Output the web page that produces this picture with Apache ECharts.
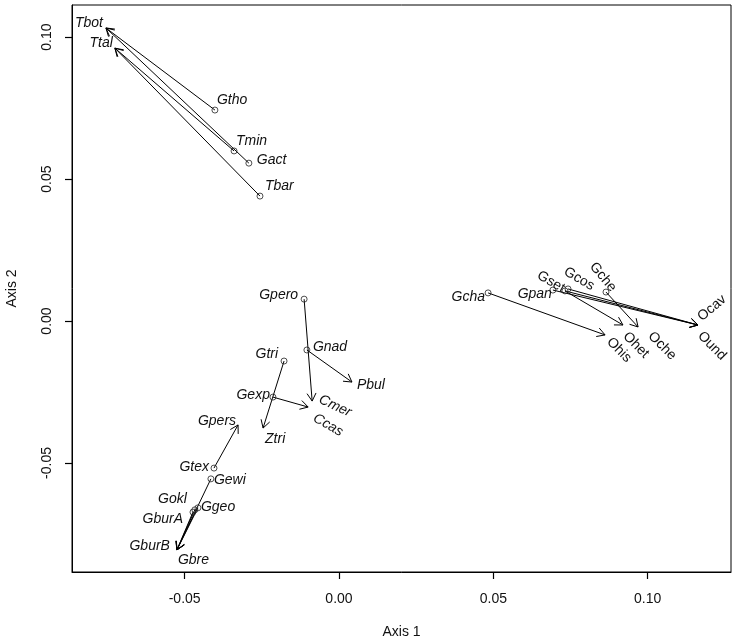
<!DOCTYPE html>
<html>
<head>
<meta charset="utf-8">
<script src="https://cdn.jsdelivr.net/npm/echarts@6/dist/echarts.min.js"></script>
<style>
  html, body { margin: 0; padding: 0; background: #fff; }
  #chart { width: 738px; height: 644px; }
</style>
</head>
<body>
<div id="chart"></div>
<script>
// start points (circles)
const startNames = ['Gtho', 'Tmin', 'Gact', 'Tbar', 'Gcha', 'Gpan', 'Gset', 'Gcos', 'Gche',
  'Gpero', 'Gnad', 'Gtri', 'Gexp', 'Gtex', 'Gewi', 'Ggeo', 'Gokl', 'GburA']
const startX = [-0.0402, -0.0340, -0.0292, -0.0256, 0.0483, 0.0693, 0.0732, 0.0742, 0.0865,
  -0.0113, -0.0104, -0.0178, -0.0214, -0.0405, -0.0415, -0.0457, -0.0467, -0.0473]
const startY = [0.0743, 0.0599, 0.0556, 0.0440, 0.0099, 0.0109, 0.0106, 0.0113, 0.0102,
  0.0077, -0.0102, -0.0141, -0.0268, -0.0518, -0.0556, -0.0658, -0.0665, -0.0673]

// arrow tips
const endNames = ['Tbot', 'Ttal', 'Ohis', 'Ohet', 'Oche', 'Ocav', 'Ound', 'Cmer', 'Ccas',
  'Pbul', 'Ztri', 'Gpers', 'Gbre', 'GburB']
const endX = [-0.0755, -0.0726, 0.0862, 0.0920, 0.0969, 0.1163, 0.1163, -0.0087, -0.0100,
  0.0042, -0.0246, -0.0327, -0.0525, -0.0525]
const endY = [0.1032, 0.0961, -0.0049, -0.0014, -0.0021, -0.0014, -0.0014, -0.0282, -0.0303,
  -0.0215, -0.0377, -0.0366, -0.0806, -0.0806]

// arrows: from start name to tip name
const arrowFrom = ['Gtho', 'Gact', 'Tmin', 'Tbar', 'Gcha', 'Gpan', 'Gset', 'Gset', 'Gcos', 'Gche',
  'Gpero', 'Gnad', 'Gtri', 'Gexp', 'Gtex', 'Gewi', 'Ggeo', 'Gokl', 'GburA']
const arrowTo = ['Tbot', 'Tbot', 'Ttal', 'Ttal', 'Ohis', 'Ocav', 'Ohet', 'Ocav', 'Ound', 'Oche',
  'Cmer', 'Pbul', 'Ztri', 'Ccas', 'Gpers', 'Gbre', 'GburB', 'GburB', 'Gbre']

// axis ticks
const xTicks = [-0.05, 0.00, 0.05, 0.10]
const yTicks = [-0.05, 0.00, 0.05, 0.10]

// label placement (pixel offset from the point, align, rotation in degrees, italic)
const labelPos = {
  Gtho: [2, -10, 'left', 0, true], Tmin: [2, -10, 'left', 0, true], Gact: [8, -3, 'left', 0, true],
  Tbar: [5, -10, 'left', 0, true], Gcha: [-3, 4, 'right', 0, true], Gpan: [-1, 4, 'right', 0, true],
  Gset: [-14, -9, 'center', -30, false], Gcos: [11, -10, 'center', -30, false],
  Gche: [-3, -15, 'center', -50, false],
  Gpero: [-6, -4, 'right', 0, true], Gnad: [6, -3, 'left', 0, true], Gtri: [-6, -7, 'right', 0, true],
  Gexp: [-3, -2, 'right', 0, true], Gtex: [-5, -1, 'right', 0, true], Gewi: [3, 1, 'left', 0, true],
  Ggeo: [3, -1, 'left', 0, true], Gokl: [-8, -11, 'right', 0, true], GburA: [-10, 7, 'right', 0, true],
  Tbot: [-3, -5, 'right', 0, true], Ttal: [-2, -5, 'right', 0, true],
  Ohis: [14, 15, 'center', -45, false], Ohet: [13, 20, 'center', -45, false],
  Oche: [24, 19, 'center', -45, false], Ocav: [14, -17, 'center', 40, false],
  Ound: [14, 21, 'center', -45, false],
  Cmer: [23, 5, 'center', -25, true], Ccas: [20, 18, 'center', -30, true],
  Pbul: [5, 3, 'left', 0, true], Ztri: [2, 11, 'left', 0, true], Gpers: [-2, -4, 'right', 0, true],
  GburB: [-7, -4, 'right', 0, true], Gbre: [1, 10, 'left', 0, true]
}

const FONT = '"Liberation Sans", Arial, sans-serif'

const startData = startNames.map((n, i) => [startX[i], startY[i]])
const endData = endNames.map((n, i) => [endX[i], endY[i]])
const arrowData = arrowFrom.map((f, i) => {
  const a = startNames.indexOf(f)
  const b = endNames.indexOf(arrowTo[i])
  return [startX[a], startY[a], endX[b], endY[b]]
})
const labelNames = startNames.concat(endNames)
const labelData = startData.concat(endData)

// 箭头：线段 + 开口箭头
const renderArrow = (params, api) => {
  const p0 = api.coord([api.value(0), api.value(1)])
  const p1 = api.coord([api.value(2), api.value(3)])
  const ang = Math.atan2(p1[1] - p0[1], p1[0] - p0[0])
  const L = 9
  const a = Math.PI / 6
  const h1 = [p1[0] - L * Math.cos(ang - a), p1[1] - L * Math.sin(ang - a)]
  const h2 = [p1[0] - L * Math.cos(ang + a), p1[1] - L * Math.sin(ang + a)]
  const style = { stroke: '#000', lineWidth: 1, fill: null }
  return {
    type: 'group',
    children: [
      { type: 'line', shape: { x1: p0[0], y1: p0[1], x2: p1[0], y2: p1[1] }, style },
      { type: 'polyline', shape: { points: [h1, p1, h2] }, style }
    ]
  }
}

// 文字标签
const renderLabel = (params, api) => {
  const name = labelNames[params.dataIndex]
  const p = api.coord([api.value(0), api.value(1)])
  const cfg = labelPos[name]
  return {
    type: 'text',
    x: p[0] + cfg[0],
    y: p[1] + cfg[1],
    rotation: cfg[3] * Math.PI / 180,
    style: {
      text: name,
      fill: '#111',
      font: (cfg[4] ? 'italic ' : '') + '14px ' + FONT,
      align: cfg[2],
      verticalAlign: 'middle'
    }
  }
}

const chart = echarts.init(document.getElementById('chart'), null, { renderer: 'canvas' })

const option = {
  backgroundColor: '#fff',
  animation: false,
  textStyle: { fontFamily: FONT },
  grid: {
    left: 72, right: 7, top: 5, bottom: 72,
    outerBoundsMode: 'none',
    show: true, borderColor: '#000', borderWidth: 1, backgroundColor: 'transparent'
  },
  xAxis: {
    type: 'value',
    min: -0.0865,
    max: 0.1270,
    name: 'Axis 1',
    nameLocation: 'middle',
    nameGap: 53,
    nameTextStyle: { fontSize: 14, color: '#111', fontFamily: FONT },
    splitLine: { show: false },
    axisLine: { show: true, onZero: false, lineStyle: { color: '#000' } },
    axisTick: { show: true, customValues: xTicks, length: 7, lineStyle: { color: '#000', width: 1.2 } },
    axisLabel: {
      customValues: xTicks,
      formatter: v => v.toFixed(2),
      fontSize: 14,
      color: '#111',
      margin: 20,
      fontFamily: FONT
    }
  },
  yAxis: {
    type: 'value',
    min: -0.0884,
    max: 0.1113,
    name: 'Axis 2',
    nameLocation: 'middle',
    nameGap: 53,
    nameTextStyle: { fontSize: 14, color: '#111', fontFamily: FONT },
    splitLine: { show: false },
    axisLine: { show: true, onZero: false, lineStyle: { color: '#000' } },
    axisTick: { show: true, customValues: yTicks, length: 7, lineStyle: { color: '#000', width: 1.2 } },
    axisLabel: {
      customValues: yTicks,
      formatter: v => v.toFixed(2),
      rotate: 90,
      fontSize: 14,
      color: '#111',
      margin: 18,
      fontFamily: FONT
    }
  },
  series: [
    {
      type: 'custom',
      renderItem: renderArrow,
      encode: { x: [0, 2], y: [1, 3] },
      data: arrowData,
      silent: true,
      z: 2
    },
    {
      type: 'scatter',
      data: startData,
      symbol: 'circle',
      symbolSize: 6,
      itemStyle: { color: 'rgba(255,255,255,0)', borderColor: '#222', borderWidth: 1 },
      silent: true,
      z: 3
    },
    {
      type: 'custom',
      renderItem: renderLabel,
      encode: { x: 0, y: 1 },
      data: labelData,
      silent: true,
      z: 4
    }
  ]
}

chart.setOption(option)
</script>
</body>
</html>
